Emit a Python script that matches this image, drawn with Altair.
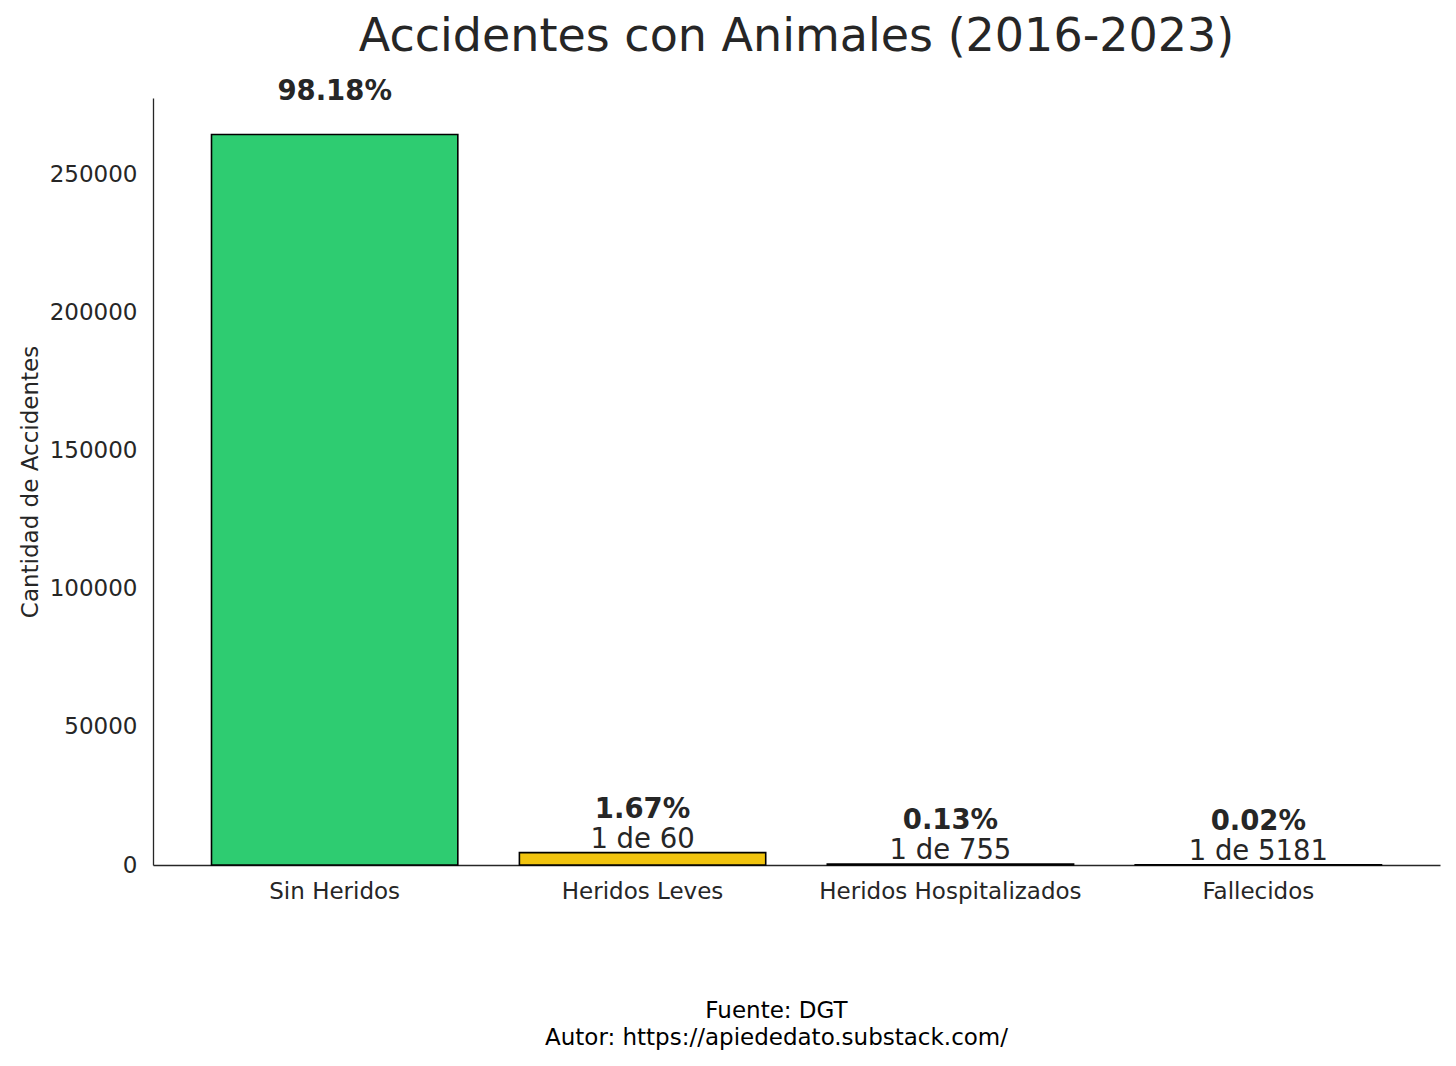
import altair as alt
import pandas as pd

categorias = ["Sin Heridos", "Heridos Leves", "Heridos Hospitalizados", "Fallecidos"]
accidentes = [264500, 4490, 357, 52]
porcentajes = ["98.18%", "1.67%", "0.13%", "0.02%"]
proporcion = ["", "1 de 60", "1 de 755", "1 de 5181"]
colores = ["#2ecc71", "#f1c40f", "#e67e22", "#e74c3c"]
y_ticks = [0, 50000, 100000, 150000, 200000, 250000]

df = pd.DataFrame({
    "Categoria": categorias,
    "Accidentes": accidentes,
    "Porcentaje": porcentajes,
    "Proporcion": proporcion,
})

TXT = "#262626"
FONT = "DejaVu Sans"
FS = 23

x_enc = alt.X(
    "Categoria:N",
    sort=categorias,
    scale=alt.Scale(paddingInner=0.2, paddingOuter=0.19),
    axis=alt.Axis(
        labelAngle=0,
        labelLimit=600,
        ticks=False,
        domainColor=TXT,
        domainWidth=1.3,
        labelFontSize=FS,
        labelColor=TXT,
        labelPadding=15,
        title=["Fuente: DGT", "Autor: https://apiededato.substack.com/"],
        titleFontSize=FS,
        titleFontWeight="normal",
        titleColor="#000000",
        titleLineHeight=27,
        titleX=623,
        titleY=152,
        titleBaseline="alphabetic",
        titleAlign="center",
    ),
)

y_enc = alt.Y(
    "Accidentes:Q",
    scale=alt.Scale(domain=[0, 277725], nice=False, zero=True),
    axis=alt.Axis(
        values=y_ticks,
        format="d",
        ticks=False,
        grid=False,
        domainColor=TXT,
        domainWidth=1.3,
        labelFontSize=FS,
        labelColor=TXT,
        labelPadding=16,
        title="Cantidad de Accidentes",
        titleFontSize=FS,
        titleFontWeight="normal",
        titleColor=TXT,
        titleX=-116,
        titleBaseline="alphabetic",
    ),
)

base = alt.Chart(df).encode(x=x_enc, y=y_enc)

bars = base.mark_bar(stroke="#000000", strokeWidth=1.6).encode(
    color=alt.Color("Categoria:N", scale=alt.Scale(domain=categorias, range=colores), legend=None)
)

pct = base.mark_text(
    font=FONT, fontSize=27.5, fontWeight="bold", color=TXT, baseline="middle", dy=-43
).encode(text="Porcentaje:N")

ratio = base.mark_text(
    font=FONT, fontSize=27.5, color=TXT, baseline="middle", dy=-13
).encode(text="Proporcion:N")

chart = (
    alt.layer(bars, pct, ratio)
    .properties(
        width=1287,
        height=767,
        autosize=alt.AutoSizeParams(type="none"),
        padding={"left": 145, "top": 90, "right": 8, "bottom": 193},
        title=alt.TitleParams(
            "Accidentes con Animales (2016-2023)",
            fontSize=46,
            fontWeight="normal",
            font=FONT,
            color=TXT,
            anchor="middle",
            baseline="alphabetic",
            offset=0,
            dy=19,
        ),
    )
    .configure(font=FONT, background="white")
    .configure_view(stroke=None)
)

chart.save("out.html", embed_options={"renderer": "svg", "actions": False})
